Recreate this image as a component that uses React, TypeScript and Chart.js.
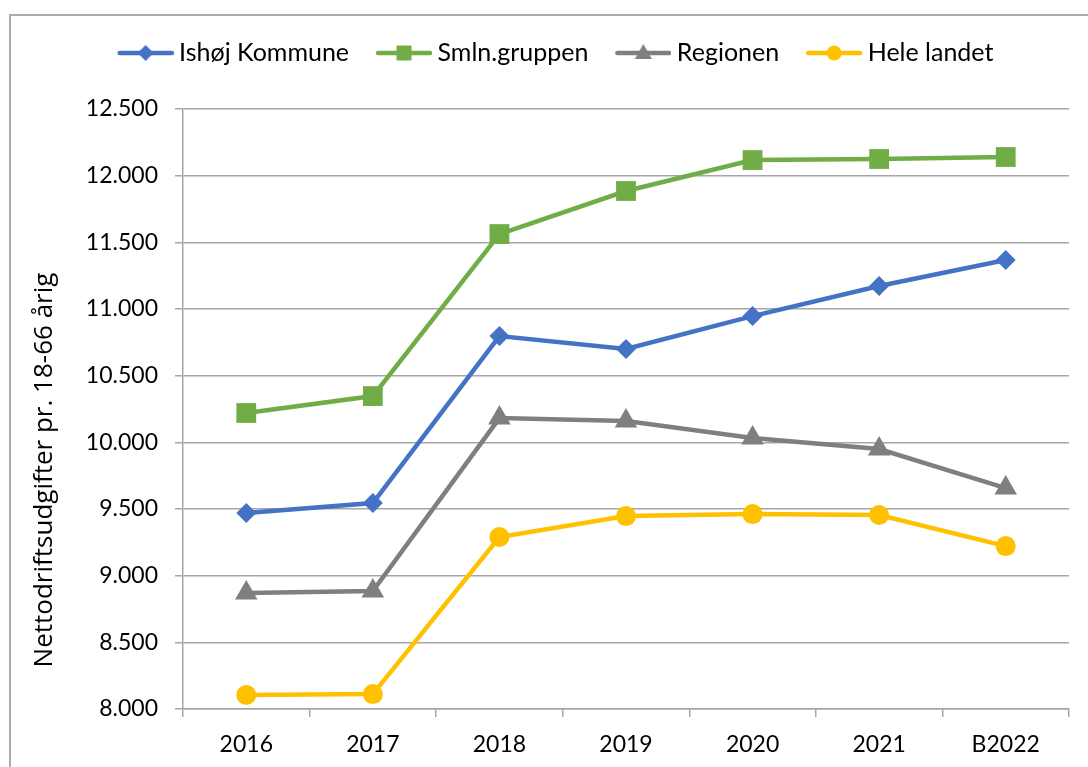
import React, { useEffect, useRef } from "react";
import { Chart, registerables } from "chart.js";

Chart.register(...registerables);

const categories = ["2016", "2017", "2018", "2019", "2020", "2021", "B2022"];
const ishoj = [9470, 9545, 10797, 10700, 10947, 11172, 11367];
const smln = [10220, 10347, 11562, 11885, 12117, 12125, 12140];
const regionen = [8870, 8885, 10182, 10160, 10032, 9950, 9657];
const heleLandet = [8105, 8112, 9290, 9447, 9462, 9455, 9222];

const seriesNames = ["Ishøj Kommune", "Smln.gruppen", "Regionen", "Hele landet"];
const yMin = 8000;
const yMax = 12500;
const yStep = 500;
const yTitle = "Nettodriftsudgifter pr. 18-66 årig";

const FONT = "Lato";
const TITLE_FONT = "Open Sans";

function fmt(v: number) {
  const s = String(Math.round(v));
  return s.replace(/\B(?=(\d{3})+(?!\d))/g, ".");
}

const BOX_W = 66;
const ICON_W = 80;

function legendIcon(color: string, shape: string) {
  const c = document.createElement("canvas");
  c.width = ICON_W;
  c.height = 24;
  const ctx = c.getContext("2d")!;
  ctx.strokeStyle = color;
  ctx.fillStyle = color;
  ctx.lineWidth = 4.5;
  ctx.lineCap = "round";
  const center = ICON_W / 2;
  const end = center + BOX_W / 2 + 12.5 - 7.5;
  const start = end - 52;
  ctx.beginPath();
  ctx.moveTo(start, 12);
  ctx.lineTo(end, 12);
  ctx.stroke();
  const cx = (start + end) / 2, cy = 12;
  ctx.beginPath();
  if (shape === "diamond") {
    ctx.moveTo(cx, cy - 8);
    ctx.lineTo(cx + 8, cy);
    ctx.lineTo(cx, cy + 8);
    ctx.lineTo(cx - 8, cy);
  } else if (shape === "square") {
    ctx.rect(cx - 7.5, cy - 7.5, 15, 15);
  } else if (shape === "triangle") {
    ctx.moveTo(cx, cy - 9);
    ctx.lineTo(cx + 8.5, cy + 6);
    ctx.lineTo(cx - 8.5, cy + 6);
  } else {
    ctx.arc(cx, cy, 7.5, 0, Math.PI * 2);
  }
  ctx.closePath();
  ctx.fill();
  return c;
}

const legendSpacer = {
  id: "legendSpacer",
  afterInit(chart: any) {
    const lg = chart.legend;
    if (lg && !lg.__wrapped) {
      const orig = lg.fit.bind(lg);
      lg.fit = function () {
        orig();
        this.height += 33.5;
      };
      lg.__wrapped = true;
    }
  },
  afterLayout(chart: any) {
    const lg = chart.legend;
    if (lg) {
      lg.left += 7;
      lg.right += 7;
    }
  },
};

const yTitlePlugin = {
  id: "yTitlePlugin",
  afterDraw(chart: any) {
    const a = chart.chartArea;
    const ctx = chart.ctx;
    ctx.save();
    ctx.translate(34, (a.top + a.bottom) / 2 + 61);
    ctx.rotate(-Math.PI / 2);
    ctx.font = `26px "${TITLE_FONT}"`;
    ctx.fillStyle = "#000";
    ctx.textAlign = "center";
    ctx.textBaseline = "middle";
    ctx.fillText(yTitle, 0, 0);
    ctx.restore();
  },
};

export default function App() {
  const ref = useRef<HTMLCanvasElement | null>(null);
  useEffect(() => {
    const colors = ["#4472C4", "#70AD47", "#7F7F7F", "#FFC000"];
    const shapes = ["diamond", "square", "triangle", "circle"];
    const pointStyles: any[] = ["rectRot", "rect", "triangle", "circle"];
    const radii = [10, 14, 13, 10];
    const values = [ishoj, smln, regionen, heleLandet];
    const icons = colors.map((c, i) => legendIcon(c, shapes[i]));
    const chart = new Chart(ref.current!, {
      type: "line",
      data: {
        labels: categories,
        datasets: values.map((v, i) => ({
          label: seriesNames[i],
          data: v,
          borderColor: colors[i],
          backgroundColor: colors[i],
          borderWidth: 4.5,
          pointStyle: pointStyles[i],
          pointRadius: radii[i],
          pointBorderWidth: 0,
          pointBackgroundColor: colors[i],
          tension: 0,
        })),
      },
      plugins: [legendSpacer, yTitlePlugin],
      options: {
        responsive: false,
        animation: false,
        layout: { padding: { top: 14.5, right: 19, left: 0, bottom: 0 } },
        plugins: {
          tooltip: { enabled: false },
          legend: {
            position: "top",
            labels: {
              usePointStyle: true,
              pointStyleWidth: BOX_W,
              boxHeight: 24,
              padding: 10,
              color: "#000",
              font: { family: FONT, size: 25 },
              generateLabels: (ch: any) =>
                ch.data.datasets.map((d: any, i: number) => ({
                  text: d.label,
                  pointStyle: icons[i],
                  fillStyle: colors[i],
                  strokeStyle: colors[i],
                  lineWidth: 0,
                  datasetIndex: i,
                  hidden: false,
                })),
            },
          },
        },
        scales: {
          x: {
            offset: true,
            grid: {
              offset: true,
              drawOnChartArea: false,
              drawTicks: true,
              tickLength: 8,
              color: "#a6a6a6",
              lineWidth: 1.5,
            },
            border: { display: true, color: "#a6a6a6", width: 1.5 },
            ticks: {
              color: "#000",
              font: { family: FONT, size: 23 },
              padding: 14,
              maxRotation: 0,
              autoSkip: false,
            },
            afterFit: (s: any) => {
              s.height = 58;
            },
          },
          y: {
            min: yMin,
            max: yMax,
            grid: {
              color: "#a6a6a6",
              lineWidth: 1.5,
              tickLength: 8,
              drawTicks: true,
            },
            border: { display: true, color: "#a6a6a6", width: 1.5 },
            ticks: {
              stepSize: yStep,
              color: "#000",
              font: { family: FONT, size: 23 },
              padding: 17,
              callback: (v: any) => fmt(Number(v)),
            },
            afterFit: (s: any) => {
              s.width = 172;
            },
          },
        },
      },
    });
    return () => chart.destroy();
  }, []);
  return (
    <div>
      <div
        style={{
          position: "absolute",
          left: 9,
          top: 14,
          width: 1079,
          height: 753,
          borderTop: "2px solid #ababab",
          borderLeft: "2px solid #ababab",
          boxSizing: "border-box",
          background: "#fff",
          overflow: "hidden",
        }}
      >
        <canvas ref={ref} width={1077} height={751} style={{ display: "block" }} />
      </div>
    </div>
  );
}
